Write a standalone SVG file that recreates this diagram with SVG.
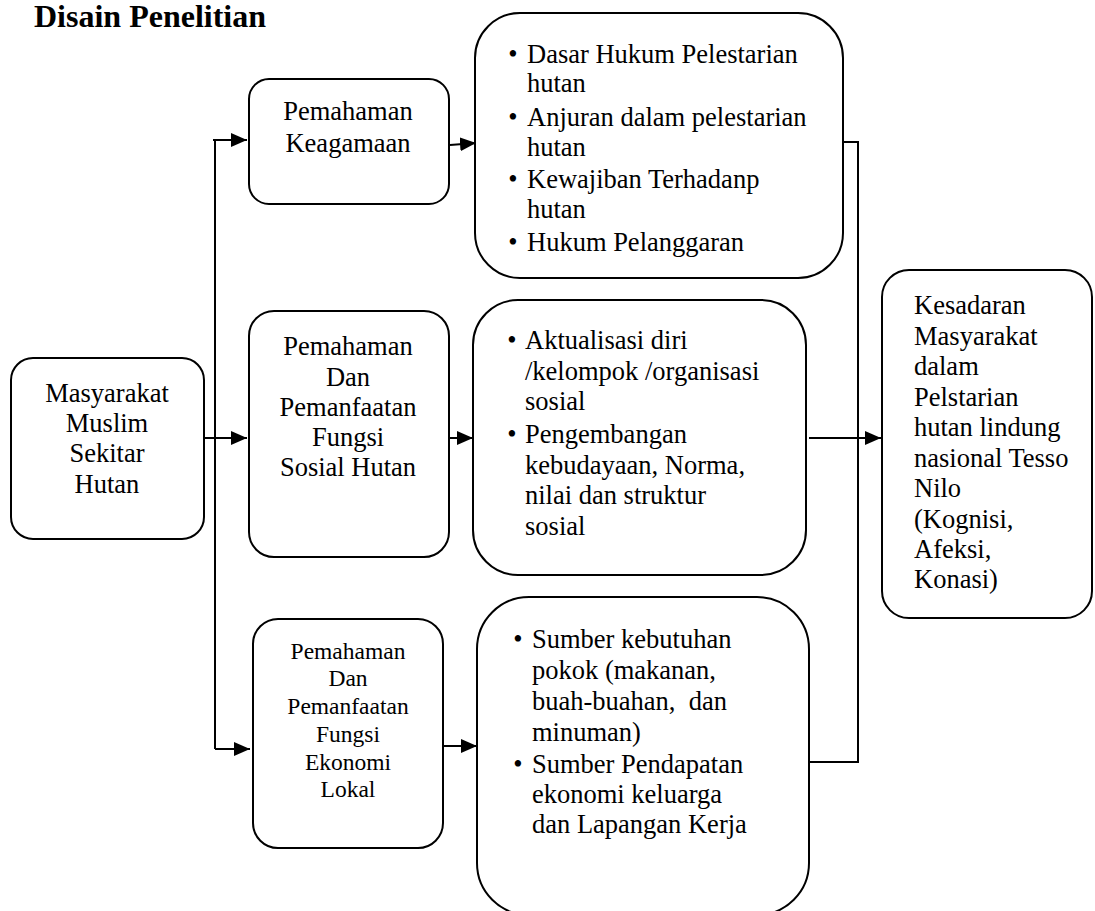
<svg xmlns="http://www.w3.org/2000/svg" width="1095" height="911" viewBox="0 0 1095 911">
<style>
.box{fill:#fff;stroke:#000;stroke-width:2}
.t{font-family:"Liberation Serif","Times New Roman",serif;font-size:26.5px;fill:#000}
.s{font-size:23.5px}
.c{text-anchor:middle}
.ln{fill:none;stroke:#000;stroke-width:2}
.title{font-family:"Liberation Serif","Times New Roman",serif;font-size:32px;font-weight:bold;fill:#000}
</style>
<defs>
<marker id="ah" markerUnits="userSpaceOnUse" markerWidth="16" markerHeight="14" refX="16" refY="7" orient="auto">
<path d="M0,0 L16,7 L0,14 z" fill="#000"/>
</marker>
</defs>
<rect width="1095" height="911" fill="#fff"/>
<text class="title" x="34" y="27">Disain Penelitian</text>

<g id="connectors">
<path class="ln" d="M215,140 V749"/>
<path class="ln" d="M213,140 H247" marker-end="url(#ah)"/>
<path class="ln" d="M215,749 H250" marker-end="url(#ah)"/>
<path class="ln" d="M204,438 H247" marker-end="url(#ah)"/>
<path class="ln" d="M450,145 L476,143" marker-end="url(#ah)"/>
<path class="ln" d="M449,438 H473" marker-end="url(#ah)"/>
<path class="ln" d="M442,746 H477" marker-end="url(#ah)"/>
<path class="ln" d="M841,142 H858 V762 H803"/>
<path class="ln" d="M809,438 H881" marker-end="url(#ah)"/>
</g>

<g id="masyarakat">
<rect class="box" x="11" y="358" width="193" height="181" rx="22"/>
<text class="t c" x="107" y="402">Masyarakat</text>
<text class="t c" x="107" y="432">Muslim</text>
<text class="t c" x="107" y="462">Sekitar</text>
<text class="t c" x="107" y="493">Hutan</text>
</g>

<g id="keagamaan">
<rect class="box" x="249" y="79" width="200" height="125" rx="20"/>
<text class="t c" x="348" y="120">Pemahaman</text>
<text class="t c" x="348" y="152">Keagamaan</text>
</g>

<g id="sosial">
<rect class="box" x="249" y="311" width="200" height="246" rx="25"/>
<text class="t c" x="348" y="355">Pemahaman</text>
<text class="t c" x="348" y="386">Dan</text>
<text class="t c" x="348" y="416">Pemanfaatan</text>
<text class="t c" x="348" y="446">Fungsi</text>
<text class="t c" x="348" y="476">Sosial Hutan</text>
</g>

<g id="ekonomi">
<rect class="box" x="253" y="619" width="190" height="229" rx="25"/>
<text class="t s c" x="348" y="659">Pemahaman</text>
<text class="t s c" x="348" y="686">Dan</text>
<text class="t s c" x="348" y="714">Pemanfaatan</text>
<text class="t s c" x="348" y="742">Fungsi</text>
<text class="t s c" x="348" y="770">Ekonomi</text>
<text class="t s c" x="348" y="797">Lokal</text>
</g>

<g id="hukum">
<rect class="box" x="475" y="13" width="368" height="265" rx="45"/>
<text class="t c" x="513" y="63">•</text>
<text class="t" x="527" y="63">Dasar Hukum Pelestarian</text>
<text class="t" x="527" y="92">hutan</text>
<text class="t c" x="513" y="126">•</text>
<text class="t" x="527" y="126">Anjuran dalam pelestarian</text>
<text class="t" x="527" y="156">hutan</text>
<text class="t c" x="513" y="188">•</text>
<text class="t" x="527" y="188">Kewajiban Terhadanp</text>
<text class="t" x="527" y="218">hutan</text>
<text class="t c" x="513" y="251">•</text>
<text class="t" x="527" y="251">Hukum Pelanggaran</text>
</g>

<g id="aktualisasi">
<rect class="box" x="473" y="300" width="333" height="275" rx="45"/>
<text class="t c" x="512" y="349">•</text>
<text class="t" x="525" y="349">Aktualisasi diri</text>
<text class="t" x="525" y="380">/kelompok /organisasi</text>
<text class="t" x="525" y="410">sosial</text>
<text class="t c" x="512" y="443">•</text>
<text class="t" x="525" y="443">Pengembangan</text>
<text class="t" x="525" y="474">kebudayaan, Norma,</text>
<text class="t" x="525" y="504">nilai dan struktur</text>
<text class="t" x="525" y="535">sosial</text>
</g>

<g id="sumber">
<rect class="box" x="477" y="597" width="332" height="318" rx="52"/>
<text class="t c" x="518" y="648">•</text>
<text class="t" x="532" y="648">Sumber kebutuhan</text>
<text class="t" x="532" y="679">pokok (makanan,</text>
<text class="t" x="532" y="710" xml:space="preserve">buah-buahan,  dan</text>
<text class="t" x="532" y="741">minuman)</text>
<text class="t c" x="518" y="773">•</text>
<text class="t" x="532" y="773">Sumber Pendapatan</text>
<text class="t" x="532" y="803">ekonomi keluarga</text>
<text class="t" x="532" y="833">dan Lapangan Kerja</text>
</g>

<g id="kesadaran">
<rect class="box" x="882" y="270" width="210" height="348" rx="27"/>
<text class="t" x="914" y="314">Kesadaran</text>
<text class="t" x="914" y="345">Masyarakat</text>
<text class="t" x="914" y="375">dalam</text>
<text class="t" x="914" y="406">Pelstarian</text>
<text class="t" x="914" y="436">hutan lindung</text>
<text class="t" x="914" y="467">nasional Tesso</text>
<text class="t" x="914" y="497">Nilo</text>
<text class="t" x="914" y="528">(Kognisi,</text>
<text class="t" x="914" y="558">Afeksi,</text>
<text class="t" x="914" y="588">Konasi)</text>
</g>
</svg>
